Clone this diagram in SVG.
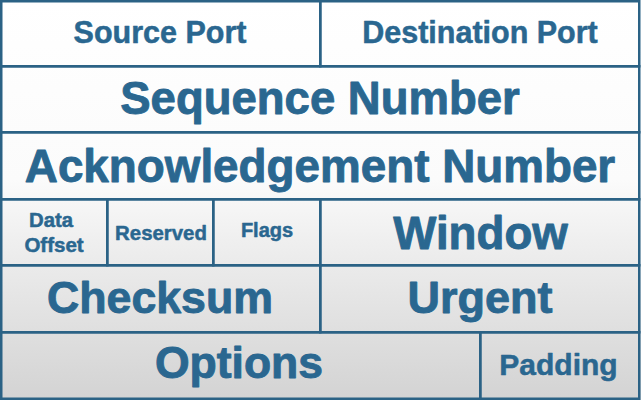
<svg xmlns="http://www.w3.org/2000/svg" width="641" height="400" viewBox="0 0 641 400">
<defs>
<linearGradient id="bg" x1="0" y1="0" x2="0" y2="400" gradientUnits="userSpaceOnUse">
<stop offset="0" stop-color="#ffffff"/>
<stop offset="0.45" stop-color="#fbfbfb"/>
<stop offset="0.6" stop-color="#efefef"/>
<stop offset="1" stop-color="#d3d3d3"/>
</linearGradient>
<style>
.cell{fill:none;stroke:#2b6285;stroke-width:2.5}
.t{font-family:"Liberation Sans",Arial,sans-serif;font-weight:bold;fill:#2a6790;stroke:#2a6790;stroke-width:0.9;stroke-linejoin:round;text-anchor:middle}
.s{stroke-width:0.5}
</style>
</defs>
<rect x="0" y="0" width="641" height="400" fill="url(#bg)"/>
<g id="source-port"><rect class="cell" x="1.25" y="1.25" width="319" height="65"/><text class="t s" x="160" y="43" font-size="30.5">Source Port</text></g>
<g id="destination-port"><rect class="cell" x="320.25" y="1.25" width="319" height="65"/><text class="t s" x="480" y="43" font-size="30.5">Destination Port</text></g>
<g id="sequence-number"><rect class="cell" x="1.25" y="66.25" width="638" height="66"/><text class="t" x="320" y="114" font-size="45.5">Sequence Number</text></g>
<g id="acknowledgement-number"><rect class="cell" x="1.25" y="132.25" width="638" height="67"/><text class="t" x="320" y="182" font-size="45.8">Acknowledgement Number</text></g>
<g id="data-offset"><rect class="cell" x="1.25" y="199.25" width="106" height="66"/><text class="t s" x="51" y="227" font-size="20.3">Data</text><text class="t s" x="54" y="252" font-size="20.5">Offset</text></g>
<g id="reserved"><rect class="cell" x="107.25" y="199.25" width="106" height="66"/><text class="t s" x="161" y="240" font-size="20.4">Reserved</text></g>
<g id="flags"><rect class="cell" x="213.25" y="199.25" width="107" height="66"/><text class="t s" x="267" y="237" font-size="20">Flags</text></g>
<g id="window"><rect class="cell" x="320.25" y="199.25" width="319" height="66"/><text class="t" x="480.5" y="249" font-size="45.7">Window</text></g>
<g id="checksum"><rect class="cell" x="1.25" y="265.25" width="319" height="67"/><text class="t" x="160" y="313" font-size="44.7">Checksum</text></g>
<g id="urgent"><rect class="cell" x="320.25" y="265.25" width="319" height="67"/><text class="t" x="480" y="313" font-size="45">Urgent</text></g>
<g id="options"><rect class="cell" x="1.25" y="332.25" width="479" height="66.5"/><text class="t" x="239" y="378" font-size="44.5">Options</text></g>
<g id="padding"><rect class="cell" x="480.25" y="332.25" width="159" height="66.5"/><text class="t s" x="558.5" y="375" font-size="30">Padding</text></g>
</svg>
